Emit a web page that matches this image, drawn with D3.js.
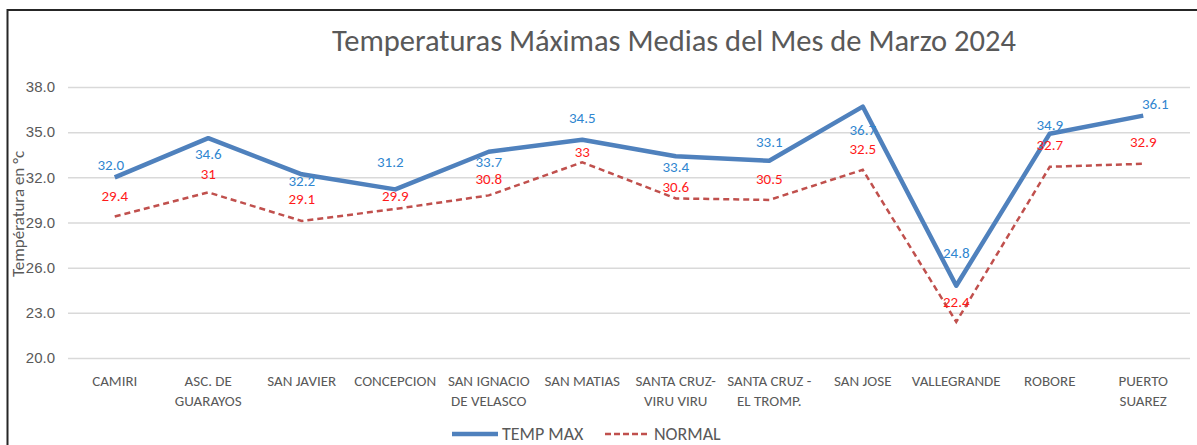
<!DOCTYPE html>
<html>
<head>
<meta charset="utf-8">
<title>Temperaturas Maximas Marzo 2024</title>
<script src="https://cdnjs.cloudflare.com/ajax/libs/d3/7.8.5/d3.min.js"></script>
<style>
  body { margin:0; background:#fff; }
  svg { display:block; font-family: Carlito, Calibri, "Liberation Sans Narrow", "Open Sans", sans-serif; }
</style>
</head>
<body>
<svg width="1197" height="445"></svg>
<script>
// data
var categories = ["CAMIRI", "ASC. DE\nGUARAYOS", "SAN JAVIER", "CONCEPCION", "SAN IGNACIO\nDE VELASCO",
  "SAN MATIAS", "SANTA CRUZ-\nVIRU VIRU", "SANTA CRUZ -\nEL TROMP.", "SAN JOSE", "VALLEGRANDE",
  "ROBORE", "PUERTO\nSUAREZ"];
var tempMax = [32.0, 34.6, 32.2, 31.2, 33.7, 34.5, 33.4, 33.1, 36.7, 24.8, 34.9, 36.1];
var normal  = [29.4, 31, 29.1, 29.9, 30.8, 33, 30.6, 30.5, 32.5, 22.4, 32.7, 32.9];
var yTicks  = [20, 23, 26, 29, 32, 35, 38];

// label nudges as placed in the original (pixels)
var maxLabelDx = [-4, 0, 0, -5, 0, 0, 0, 0, 0, 0, 0, 12];
var maxLabelDy = [-13, 16, 6, -28, 10, -22, 10, -19, 23, -33, -9, -12];
var normLabelDy = [-21, -19, -22, -13, -17, -11, -12, -21, -21, -20, -22, -22];

var svg = d3.select("svg");

// frame
svg.append("path").attr("d", "M7.5,445 V10 H1197")
  .attr("fill", "none").attr("stroke", "#262626").attr("stroke-width", 2);

var x = d3.scalePoint().domain(d3.range(categories.length)).range([68, 1190]).padding(0.5);
var y = d3.scaleLinear().domain([20, 38]).range([358, 87]);

// title
svg.append("text").attr("x", 674).attr("y", 51).attr("text-anchor", "middle")
  .attr("font-size", 30.5).attr("fill", "#595959")
  .text("Temperaturas Máximas Medias del Mes de Marzo 2024");

// y axis
var yAxis = svg.append("g").attr("transform", "translate(68,0)")
  .call(d3.axisLeft(y).tickValues(yTicks).tickFormat(d3.format(".1f")).tickSize(-1122).tickPadding(13));
yAxis.select(".domain").remove();
yAxis.selectAll("line").attr("stroke", "#d9d9d9").attr("stroke-width", 1.5);
yAxis.selectAll("text").attr("fill", "#595959").attr("font-size", 15).attr("font-family", null);

svg.append("text").attr("transform", "translate(24,214) rotate(-90)")
  .attr("text-anchor", "middle").attr("font-size", 17).attr("fill", "#595959")
  .text("Températura en °c");

// x labels
var xl = svg.append("g").selectAll("text").data(categories).join("text")
  .attr("x", function(d, i) { return x(i); })
  .attr("y", 386).attr("text-anchor", "middle").attr("font-size", 15).attr("fill", "#595959");
xl.selectAll("tspan").data(function(d) { return d.split("\n"); }).join("tspan")
  .attr("x", function() { return this.parentNode.getAttribute("x"); })
  .attr("dy", function(d, i) { return i ? 20 : 0; })
  .text(function(d) { return d; });

// lines
var line = d3.line().x(function(d, i) { return x(i); }).y(function(d) { return y(d); });

svg.append("path").datum(normal).attr("d", line)
  .attr("fill", "none").attr("stroke", "#c0504d").attr("stroke-width", 2.5)
  .attr("stroke-dasharray", "6,4");
svg.append("path").datum(tempMax).attr("d", line)
  .attr("fill", "none").attr("stroke", "#4f81bd").attr("stroke-width", 4.5)
  .attr("stroke-linejoin", "round");

// data labels
svg.append("g").selectAll("text").data(tempMax).join("text")
  .attr("x", function(d, i) { return x(i) + maxLabelDx[i]; })
  .attr("y", function(d, i) { return y(d) + maxLabelDy[i]; })
  .attr("dy", "0.35em").attr("text-anchor", "middle").attr("font-size", 15).attr("fill", "#2f86d0")
  .text(function(d) { return d.toFixed(1); });

svg.append("g").selectAll("text").data(normal).join("text")
  .attr("x", function(d, i) { return x(i); })
  .attr("y", function(d, i) { return y(d) + normLabelDy[i]; })
  .attr("dy", "0.35em").attr("text-anchor", "middle").attr("font-size", 15).attr("fill", "#ff1a1a")
  .text(function(d) { return d; });

// legend
var lg = svg.append("g").attr("transform", "translate(0,434)");
lg.append("line").attr("x1", 452).attr("x2", 498).attr("stroke", "#4f81bd").attr("stroke-width", 4.5);
lg.append("text").attr("x", 502).attr("dy", "0.35em").attr("font-size", 18).attr("fill", "#595959").text("TEMP MAX");
lg.append("line").attr("x1", 605).attr("x2", 650).attr("stroke", "#c0504d").attr("stroke-width", 2.5)
  .attr("stroke-dasharray", "6,3");
lg.append("text").attr("x", 654).attr("dy", "0.35em").attr("font-size", 18).attr("fill", "#595959").text("NORMAL");
</script>
</body>
</html>
